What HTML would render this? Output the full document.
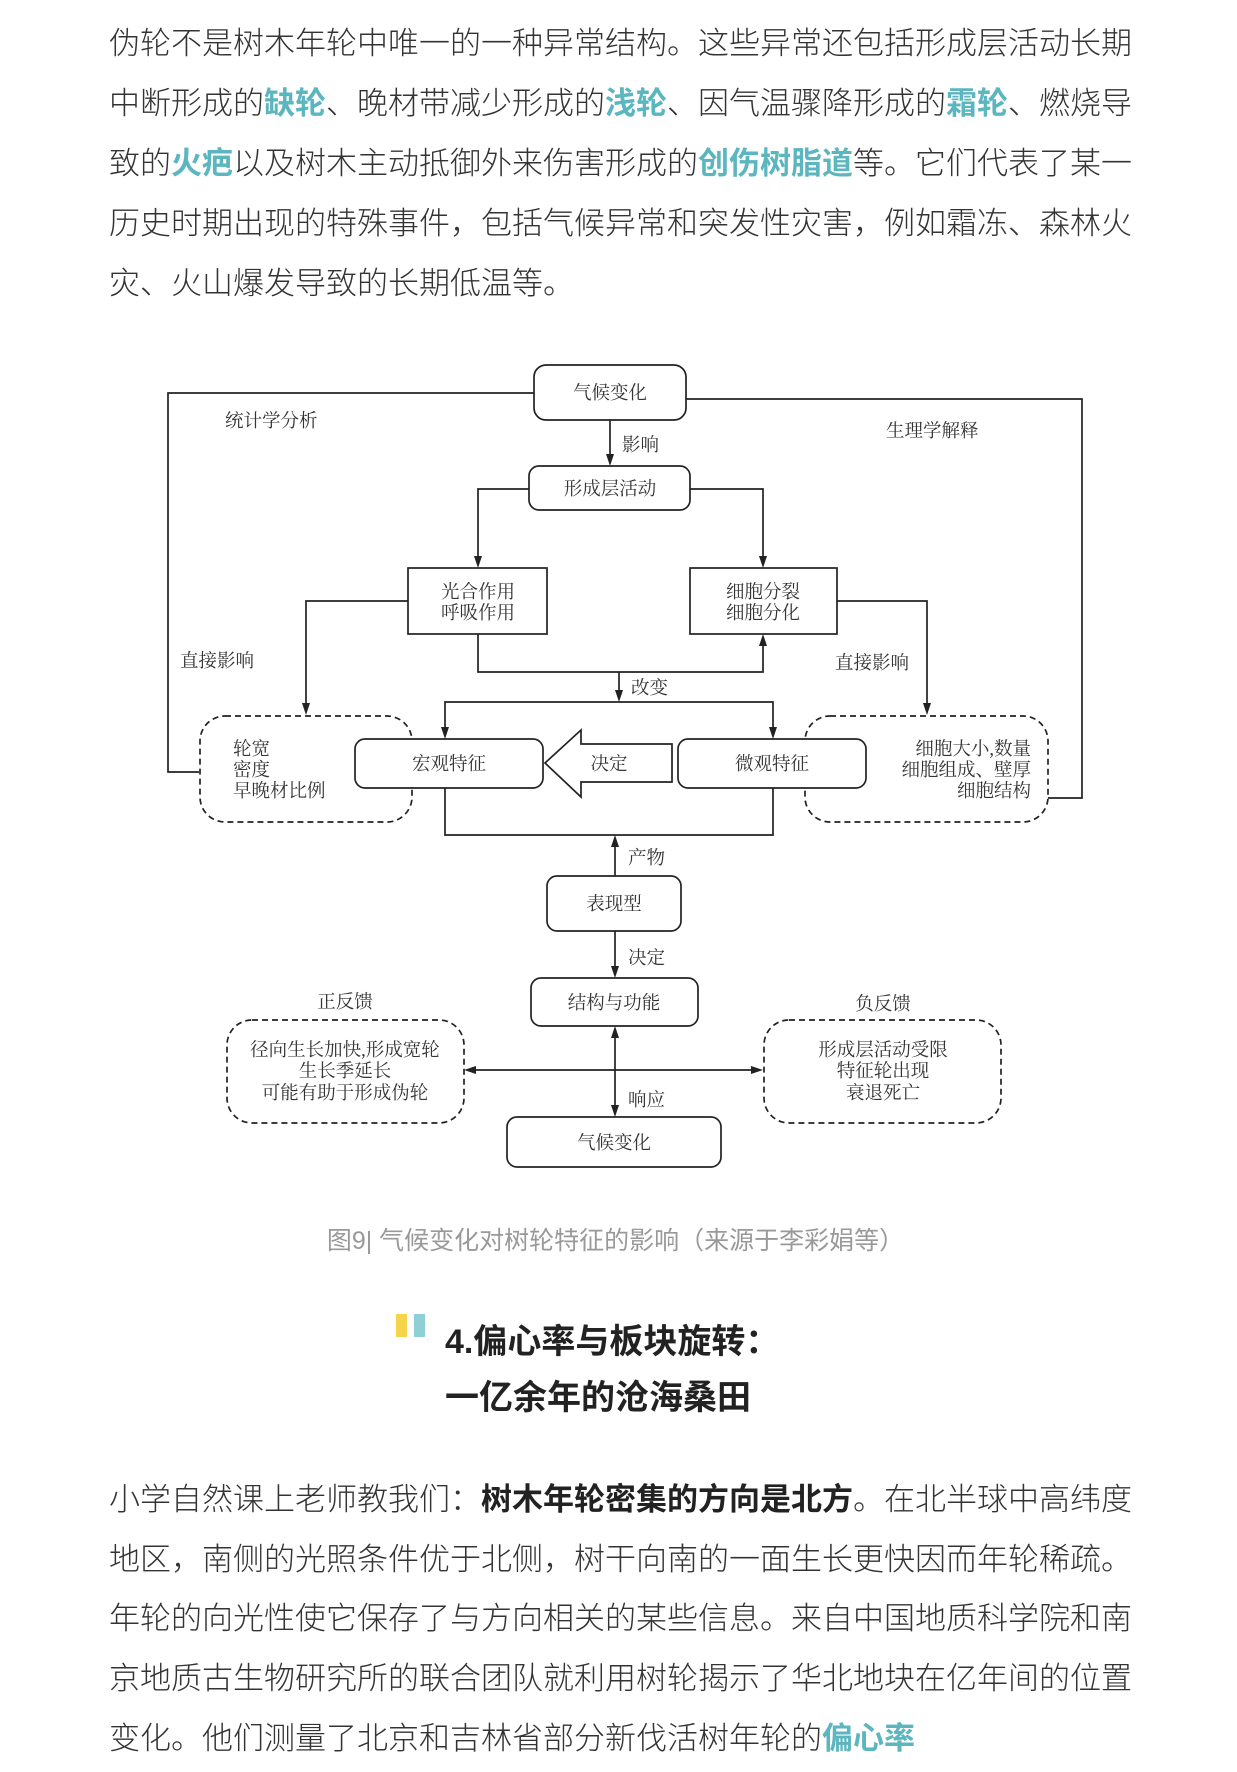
<!DOCTYPE html>
<html><head><meta charset="utf-8"><style>
html,body{margin:0;padding:0;background:#fff;}
body{width:1237px;height:1770px;position:relative;overflow:hidden;font-family:"Liberation Sans","Noto Sans CJK SC",sans-serif;}
.t{position:absolute;left:109px;font-size:31px;line-height:36px;color:#333;white-space:nowrap;font-weight:300;}
.h{color:#5cb6bf;font-weight:bold;}
.b{font-weight:bold;color:#222;}
.cap{position:absolute;left:0;width:1231px;text-align:center;top:1221px;font-size:25px;color:#999;}
.hd{position:absolute;left:445px;font-size:34px;font-weight:bold;color:#222;white-space:nowrap;line-height:40px;}
svg{position:absolute;left:2px;top:2px;}
svg text{font-family:"Liberation Serif","Noto Serif CJK SC",serif;font-size:18.5px;fill:#333;}
</style></head><body>
<div class="t" style="top:26px">伪轮不是树木年轮中唯一的一种异常结构。这些异常还包括形成层活动长期</div>
<div class="t" style="top:86px">中断形成的<span class="h">缺轮</span>、晚材带减少形成的<span class="h">浅轮</span>、因气温骤降形成的<span class="h">霜轮</span>、燃烧导</div>
<div class="t" style="top:146px">致的<span class="h">火疤</span>以及树木主动抵御外来伤害形成的<span class="h">创伤树脂道</span>等。它们代表了某一</div>
<div class="t" style="top:206px">历史时期出现的特殊事件，包括气候异常和突发性灾害，例如霜冻、森林火</div>
<div class="t" style="top:266px">灾、火山爆发导致的长期低温等。</div>

<svg width="1237" height="1770" viewBox="0 0 1237 1770">
<g fill="none" stroke="#222" stroke-width="1.7">
<polyline points="532,391 166,391 166,770 197,770"/>
<polyline points="684,397 1080,397 1080,796 1046,796"/>
<line x1="608" y1="418" x2="608" y2="454"/>
<polyline points="527,487 476,487 476,556"/>
<polyline points="688,487 761,487 761,556"/>
<polyline points="406,599 304,599 304,703"/>
<polyline points="835,599 925,599 925,703"/>
<polyline points="476,632 476,670 761,670 761,642"/>
<line x1="617" y1="670" x2="617" y2="690"/>
<polyline points="443,727 443,700 771,700 771,727"/>
<polyline points="443,786 443,833 771,833 771,786"/>
<line x1="613" y1="874" x2="613" y2="843"/>
<line x1="613" y1="929" x2="613" y2="966"/>
<line x1="613" y1="1034" x2="613" y2="1105"/>
<line x1="472" y1="1068" x2="751" y2="1068"/>
</g>
<g fill="#222">
<polygon points="604,452 612,452 608,464"/>
<polygon points="472,554 480,554 476,566"/>
<polygon points="757,554 765,554 761,566"/>
<polygon points="300,701 308,701 304,713"/>
<polygon points="921,701 929,701 925,713"/>
<polygon points="757,644 765,644 761,632"/>
<polygon points="613,688 621,688 617,700"/>
<polygon points="439,725 447,725 443,737"/>
<polygon points="767,725 775,725 771,737"/>
<polygon points="609,845 617,845 613,833"/>
<polygon points="609,964 617,964 613,976"/>
<polygon points="609,1036 617,1036 613,1024"/>
<polygon points="609,1103 617,1103 613,1115"/>
<polygon points="474,1064 474,1072 462,1068"/>
<polygon points="749,1064 749,1072 761,1068"/>
</g>
<g fill="none" stroke="#222" stroke-width="1.7" stroke-dasharray="6,4">
<rect x="198" y="714" width="212" height="106" rx="25"/>
<rect x="803" y="714" width="243" height="106" rx="25"/>
<rect x="225" y="1018" width="237" height="103" rx="25"/>
<rect x="762" y="1018" width="237" height="103" rx="25"/>
</g>
<g fill="#fff" stroke="#222" stroke-width="1.7">
<rect x="532" y="363" width="152" height="55" rx="12"/>
<rect x="527" y="464" width="161" height="44" rx="10"/>
<rect x="406" y="566" width="139" height="66"/>
<rect x="688" y="566" width="147" height="66"/>
<rect x="353" y="737" width="188" height="49" rx="10"/>
<rect x="676" y="737" width="188" height="49" rx="10"/>
<polygon points="543,761 579,728 579,742 670,742 670,780 579,780 579,795"/>
<rect x="545" y="874" width="134" height="55" rx="10"/>
<rect x="529" y="976" width="167" height="48" rx="10"/>
<rect x="505" y="1115" width="214" height="50" rx="10"/>
</g>
<g text-anchor="middle">
<text x="608" y="397">气候变化</text>
<text x="608" y="493">形成层活动</text>
<text x="476" y="596">光合作用</text>
<text x="476" y="617">呼吸作用</text>
<text x="761" y="596">细胞分裂</text>
<text x="761" y="617">细胞分化</text>
<text x="447" y="768">宏观特征</text>
<text x="770" y="768">微观特征</text>
<text x="607" y="768">决定</text>
<text x="612" y="908">表现型</text>
<text x="612" y="1007">结构与功能</text>
<text x="612" y="1147">气候变化</text>
<text x="343" y="1054">径向生长加快,形成宽轮</text>
<text x="343" y="1075">生长季延长</text>
<text x="343" y="1097">可能有助于形成伪轮</text>
<text x="881" y="1054">形成层活动受限</text>
<text x="881" y="1075">特征轮出现</text>
<text x="881" y="1097">衰退死亡</text>
<text x="343" y="1006">正反馈</text>
<text x="881" y="1008">负反馈</text>
</g>
<g>
<text x="223" y="425">统计学分析</text>
<text x="884" y="435">生理学解释</text>
<text x="620" y="449">影响</text>
<text x="178" y="665">直接影响</text>
<text x="833" y="667">直接影响</text>
<text x="629" y="692">改变</text>
<text x="231" y="753">轮宽</text>
<text x="231" y="774">密度</text>
<text x="231" y="795">早晚材比例</text>
<text x="626" y="862">产物</text>
<text x="626" y="962">决定</text>
<text x="626" y="1104">响应</text>
</g>
<g text-anchor="end">
<text x="1029" y="753">细胞大小,数量</text>
<text x="1029" y="774">细胞组成、壁厚</text>
<text x="1029" y="795">细胞结构</text>
</g>
</svg>

<div class="cap">图9| 气候变化对树轮特征的影响（来源于李彩娟等）</div>
<div style="position:absolute;left:396px;top:1314px;width:11px;height:23px;background:#f7d54a"></div>
<div style="position:absolute;left:414px;top:1314px;width:11px;height:23px;background:#8fd0d6"></div>
<div class="hd" style="top:1322px">4.偏心率与板块旋转：</div>
<div class="hd" style="top:1378px">一亿余年的沧海桑田</div>

<div class="t" style="top:1482px">小学自然课上老师教我们：<span class="b">树木年轮密集的方向是北方</span>。在北半球中高纬度</div>
<div class="t" style="top:1542px">地区，南侧的光照条件优于北侧，树干向南的一面生长更快因而年轮稀疏。</div>
<div class="t" style="top:1601px">年轮的向光性使它保存了与方向相关的某些信息。来自中国地质科学院和南</div>
<div class="t" style="top:1661px">京地质古生物研究所的联合团队就利用树轮揭示了华北地块在亿年间的位置</div>
<div class="t" style="top:1721px">变化。他们测量了北京和吉林省部分新伐活树年轮的<span class="h">偏心率</span></div>
</body></html>
